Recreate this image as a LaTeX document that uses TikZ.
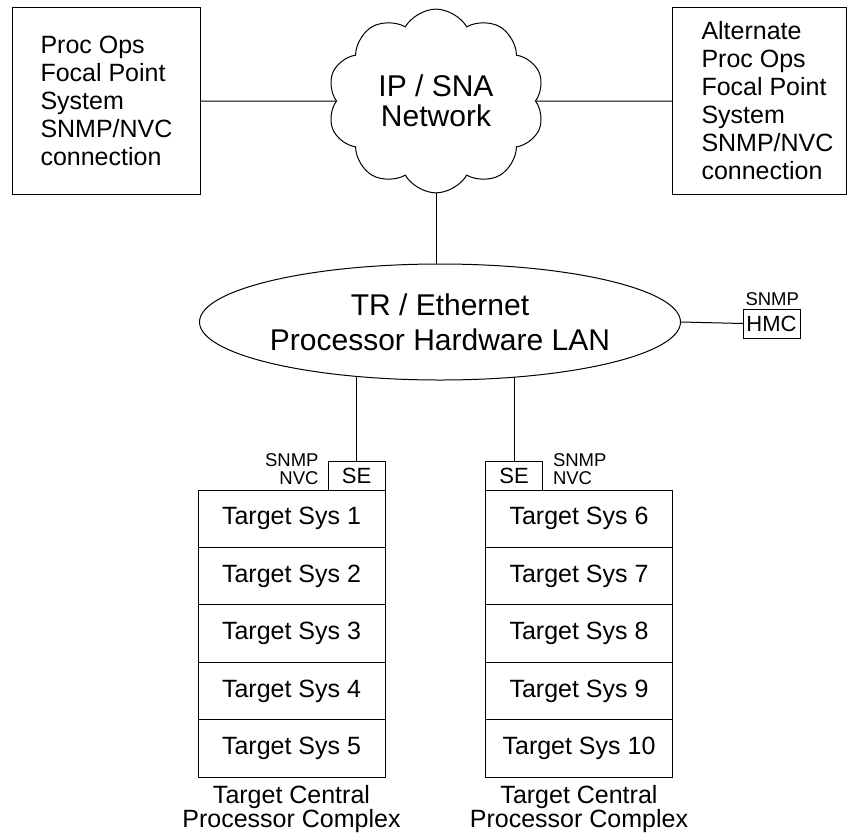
\documentclass[tikz,border=0pt]{standalone}
\usepackage{fontspec}
\setmainfont{Liberation Sans}
\usetikzlibrary{positioning,shapes.geometric,shapes.symbols,backgrounds}

\begin{document}
\begin{tikzpicture}[x=1pt,y=-1pt,line width=1pt,
  box/.style={draw,black,outer sep=0pt,inner sep=0pt},
  boxtext/.style={inner sep=0pt,align=left,font=\fontsize{25}{28}\selectfont},
  sysbox/.style={box,minimum width=187pt,minimum height=57.4pt,font=\fontsize{25}{28}\selectfont},
  sebox/.style={box,minimum width=57pt,minimum height=29pt,font=\fontsize{22}{24}\selectfont},
  small/.style={inner sep=0pt,font=\fontsize{18.5}{17.5}\selectfont},
  caption/.style={inner sep=0pt,align=center,font=\fontsize{25}{24}\selectfont}]
\useasboundingbox (0,0) rectangle (851,833);
% focal point systems
\node[box,minimum width=188pt,minimum height=187pt] (fpbox) at (106,101) {};
\node[boxtext,anchor=west] (fptext) at ([xshift=28pt]fpbox.west) {Proc Ops\\Focal Point\\System\\SNMP/NVC\\connection};
\node[box,minimum width=174pt,minimum height=187pt] (altbox) at (759,101) {};
\node[boxtext,anchor=west] (alttext) at ([xshift=29pt]altbox.west) {Alternate\\Proc Ops\\Focal Point\\System\\SNMP/NVC\\connection};
% networks
\node[cloud,draw,fill=white,cloud puffs=10,cloud puff arc=120,minimum width=217pt,minimum height=158pt,inner sep=0pt,align=center,font=\fontsize{30}{30}\selectfont] (net) at (436,101) {IP / SNA\\Network};
\node[ellipse,draw,fill=white,minimum width=464pt,minimum height=116pt,inner sep=0pt,align=center,font=\fontsize{30}{35}\selectfont] (lan) at (440,322) {TR / Ethernet\\Processor Hardware LAN};
% HMC
\node[sebox] (hmc) at (771.5,323.5) {HMC};
\node[small,anchor=south west] (hmclbl) at ([xshift=2pt,yshift=3pt]hmc.north west) {SNMP};
% left CPC
\node[sysbox] (t1) at (291.5,518.7) {Target Sys 1};
\node[sysbox,below=0pt of t1] (t2) {Target Sys 2};
\node[sysbox,below=0pt of t2] (t3) {Target Sys 3};
\node[sysbox,below=0pt of t3] (t4) {Target Sys 4};
\node[sysbox,below=0pt of t4] (t5) {Target Sys 5};
\node[sebox,anchor=south east] (se1) at (t1.north east) {SE};
\node[small,align=right,anchor=south east] (se1lbl) at ([xshift=-9pt,yshift=5pt]se1.south west) {SNMP\\NVC};
\node[caption,anchor=north] (cpc1) at ([yshift=-8pt]t5.south) {Target Central\\Processor Complex};
% right CPC
\node[sysbox] (t6) at (579,518.7) {Target Sys 6};
\node[sysbox,below=0pt of t6] (t7) {Target Sys 7};
\node[sysbox,below=0pt of t7] (t8) {Target Sys 8};
\node[sysbox,below=0pt of t8] (t9) {Target Sys 9};
\node[sysbox,below=0pt of t9] (t10) {Target Sys 10};
\node[sebox,anchor=south west] (se2) at (t6.north west) {SE};
\node[small,align=left,anchor=south west] (se2lbl) at ([xshift=10pt,yshift=5pt]se2.south east) {SNMP\\NVC};
\node[caption,anchor=north] (cpc2) at ([yshift=-8pt]t10.south) {Target Central\\Processor Complex};
% connections
\draw (fpbox.east) -- (net.west);
\draw (net.east) -- (altbox.west);
\draw (lan.east) -- (hmc.west);
\begin{scope}[on background layer]
\draw (net.south) -- (net.south |- lan.center);
\draw (se1.north) -- (se1.north |- lan.center);
\draw (se2.north) -- (se2.north |- lan.center);
\end{scope}
\end{tikzpicture}
\end{document}
